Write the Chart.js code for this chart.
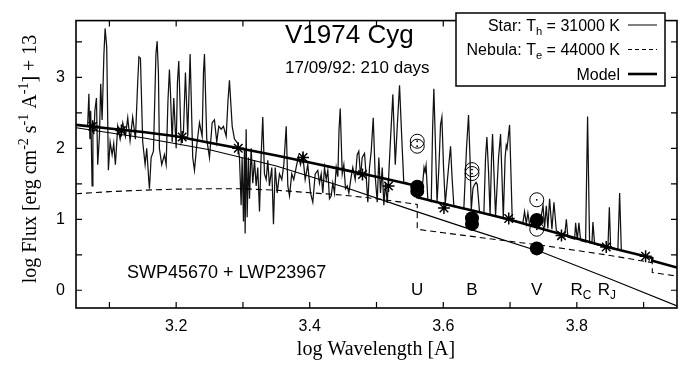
<!DOCTYPE html>
<html>
<head>
<meta charset="utf-8">
<script src="https://cdn.jsdelivr.net/npm/chart.js@4.4.1/dist/chart.umd.min.js"></script>
<style>
  html, body { margin: 0; padding: 0; background: #fff; }
  #wrap { width: 696px; height: 366px; position: relative; }
</style>
</head>
<body>
<div id="wrap"><canvas id="sedChart"></canvas></div>
<script>
// ===============================
// V1974 Cyg SED (gnuplot look)
// ===============================

// observed spectrum, [log wavelength, log flux]
const specSWP = [
  [3.0675,2.33],[3.0693,2.77],[3.0708,2.13],[3.0720,2.53],[3.0731,2.00],[3.0741,1.47],[3.0753,2.37],[3.0768,2.20],[3.0783,2.53],[3.0806,2.71],
  [3.0825,1.77],[3.0851,2.17],[3.0870,2.91],[3.0891,2.40],[3.0918,3.33],[3.0936,3.69],[3.0960,3.43],[3.0985,1.69],[3.1011,2.09],[3.1041,1.91],
  [3.1065,2.07],[3.1090,1.77],[3.1125,2.31],[3.1161,2.13],[3.1200,2.36],[3.1240,2.17],[3.1275,2.43],[3.1310,2.11],[3.1349,2.44],[3.1390,2.13],
  [3.1424,2.93],[3.1442,3.29],[3.1465,3.27],[3.1499,2.09],[3.1535,1.77],[3.1559,2.00],[3.1589,1.56],[3.1600,1.43],[3.1625,1.87],[3.1660,1.96],
  [3.1697,3.33],[3.1715,3.51],[3.1734,3.07],[3.1749,2.00],[3.1784,1.77],[3.1824,1.91],[3.1850,1.77],[3.1877,2.67],[3.1899,3.11],[3.1914,2.80],
  [3.1940,2.09],[3.1964,2.71],[3.2000,2.00],[3.2019,2.93],[3.2039,3.23],[3.2075,2.09],[3.2109,2.23],[3.2139,3.07],[3.2173,2.17],[3.2209,3.33],
  [3.2248,1.87],[3.2274,1.69],[3.2308,2.04],[3.2349,2.36],[3.2389,2.17],[3.2409,3.07],[3.2424,3.33],[3.2458,2.13],[3.2499,1.87],[3.2539,2.36],
  [3.2573,2.40],[3.2608,2.09],[3.2638,2.31],[3.2674,2.27],[3.2708,2.31],[3.2749,2.17],[3.2776,2.67],[3.2798,2.96],[3.2839,2.31],[3.2873,2.13],
  [3.2922,2.07],[3.2948,1.87]
];
const specLWP = [
  [3.2973,1.20],[3.2988,1.87],[3.3008,0.97],[3.3023,2.00],[3.3033,0.80],[3.3048,2.27],[3.3063,1.03],[3.3083,1.87],[3.3098,1.29],[3.3123,2.00],
  [3.3147,1.51],[3.3173,1.83],[3.3198,1.47],[3.3222,1.73],[3.3248,1.11],[3.3273,1.91],[3.3297,2.44],[3.3322,1.64],[3.3348,1.56],[3.3372,1.83],
  [3.3397,1.47],[3.3432,1.73],[3.3457,0.93],[3.3483,1.73],[3.3513,1.37],[3.3547,1.64],[3.3582,1.56],[3.3612,1.77],[3.3648,2.31],[3.3672,1.47],
  [3.3697,1.33],[3.3731,1.64],[3.3761,1.56],[3.3797,1.73],[3.3832,1.89],[3.3862,1.77],[3.3896,1.91],[3.3932,1.56],[3.3971,1.77],[3.4012,1.37],
  [3.4046,1.24],[3.4082,1.64],[3.4121,1.69],[3.4146,1.51],[3.4172,1.64],[3.4196,1.37],[3.4221,1.73],[3.4247,1.56],[3.4271,1.69],[3.4296,1.29],
  [3.4322,1.33],[3.4346,1.51],[3.4371,1.37],[3.4397,1.73],[3.4421,1.60],[3.4439,2.27],[3.4457,2.56],[3.4487,1.64],[3.4511,1.77],[3.4536,1.43],
  [3.4562,1.47],[3.4586,1.37],[3.4621,1.60],[3.4645,1.73],[3.4681,1.56],[3.4711,1.91],[3.4735,1.96],[3.4761,1.60],[3.4786,1.87],[3.4821,1.93],
  [3.4846,1.60],[3.4870,1.24],[3.4895,1.73],[3.4921,1.96],[3.4951,2.43],[3.4981,1.60],[3.5011,1.24],[3.5035,1.87],[3.5060,1.37],[3.5086,1.73],
  [3.5110,1.20],[3.5135,1.51],[3.5161,1.23],[3.5180,1.56],[3.5210,2.13],[3.5245,2.76],[3.5281,1.77],[3.5311,2.31],[3.5345,2.89],[3.5379,2.13],
  [3.5409,1.51]
];
const specOpt = [
  [3.5435,1.52],[3.5495,1.49],[3.5585,1.47],[3.5630,1.31],[3.5694,1.53],[3.5712,1.73],[3.5727,1.67],[3.5742,1.76],[3.5769,1.27],[3.5820,1.25],
  [3.5840,2.27],[3.5859,2.84],[3.5884,2.00],[3.5907,1.24],[3.5934,1.73],[3.5959,2.33],[3.5979,2.44],[3.6004,1.73],[3.6030,1.22],[3.6079,1.73],
  [3.6109,2.03],[3.6131,1.60],[3.6158,1.19],[3.6308,1.15],[3.6348,2.00],[3.6378,2.47],[3.6400,1.87],[3.6419,1.13],[3.6445,1.44],[3.6468,1.49],
  [3.6491,1.52],[3.6509,1.49],[3.6543,1.10],[3.6608,1.09],[3.6633,1.87],[3.6653,2.16],[3.6678,1.67],[3.6701,1.06],[3.6723,1.87],[3.6738,2.20],
  [3.6761,1.60],[3.6783,1.05],[3.6828,1.87],[3.6858,2.20],[3.6899,1.02],[3.6926,1.87],[3.6943,2.04],[3.6955,2.00],[3.6993,2.33],[3.7033,0.99],
  [3.7192,0.95],[3.7217,1.11],[3.7243,0.94],[3.7267,1.09],[3.7292,0.93],[3.7352,0.92],[3.7442,0.90],[3.7494,1.20],[3.7517,0.88],[3.7543,1.19],
  [3.7566,0.87],[3.7592,1.29],[3.7627,0.86],[3.7657,1.24],[3.7693,0.84],[3.7817,0.76],[3.7843,1.00],[3.7866,0.75],[3.7967,0.72],[3.7982,0.95],
  [3.8007,0.71],[3.8031,0.95],[3.8057,0.70],[3.8131,0.68],[3.8161,2.45],[3.8191,0.67],[3.8226,0.66],[3.8241,0.96],[3.8266,0.65],[3.8466,0.61],
  [3.8487,1.17],[3.8506,0.60],[3.8615,0.58],[3.8641,1.37],[3.8666,0.57]
];

// star (T_h = 31000 K), thin line
const starWave = [3.05, 3.15, 3.25, 3.35, 3.45, 3.55, 3.65, 3.75, 3.85, 3.95];
const starFlux = [2.29, 2.15, 1.98, 1.75, 1.46, 1.14, 0.83, 0.53, 0.16, -0.22];

// nebula (T_e = 44000 K), dashed, with Balmer and Paschen jumps
const nebWave = [3.05, 3.10, 3.15, 3.20, 3.25, 3.30, 3.35, 3.40, 3.45, 3.50, 3.561, 3.561, 3.60, 3.65, 3.70, 3.75, 3.80, 3.85, 3.913, 3.913, 3.95];
const nebFlux = [1.36, 1.39, 1.41, 1.425, 1.43, 1.43, 1.41, 1.375, 1.34, 1.29, 1.21, 0.86, 0.81, 0.75, 0.69, 0.63, 0.56, 0.49, 0.39, 0.25, 0.20];

// model = star + nebula, thick line
const modelWave = [3.05, 3.10, 3.15, 3.20, 3.25, 3.30, 3.35, 3.40, 3.45, 3.50, 3.561, 3.561, 3.60, 3.65, 3.70, 3.75, 3.80, 3.85, 3.913, 3.913, 3.95];
const modelFlux = [2.33, 2.28, 2.23, 2.17, 2.08, 1.99, 1.90, 1.80, 1.70, 1.60, 1.47, 1.31, 1.22, 1.11, 0.995, 0.86, 0.73, 0.60, 0.455, 0.415, 0.32];

// model points (asterisks)
const synWave = [3.075, 3.118, 3.209, 3.293, 3.390, 3.479, 3.518, 3.601, 3.698, 3.777, 3.844, 3.903];
const synFlux = [2.31, 2.25, 2.16, 2.00, 1.87, 1.63, 1.47, 1.16, 1.01, 0.77, 0.61, 0.48];

// photometry: dereddened (filled) and observed (open) U, B, V
const photWave = [3.561, 3.561, 3.643, 3.643, 3.740, 3.740];
const photFlux = [1.46, 1.40, 1.015, 0.935, 0.99, 0.59];
const openWave = [3.561, 3.561, 3.643, 3.643, 3.740, 3.740];
const openFlux = [2.10, 2.03, 1.70, 1.645, 1.275, 0.86];

// band labels
const bandNames = [["U"], ["B"], ["V"], ["R", "C"], ["R", "J"]];
const bandWave = [3.561, 3.643, 3.740, 3.806, 3.845];

// axes
const xRange = [3.05, 3.95];
const yRange = [-0.25, 3.8];
const xTickLabels = [3.2, 3.4, 3.6, 3.8];
const xTickMarks = [3.1, 3.2, 3.3, 3.4, 3.5, 3.6, 3.7, 3.8, 3.9];
const yTickLabels = [0, 1, 2, 3];
const yTickMarks = [0, 0.5, 1, 1.5, 2, 2.5, 3, 3.5];

const SANS = "'Liberation Sans', Arial, sans-serif";
const SERIF = "'Liberation Serif', 'Times New Roman', serif";
const INK = "#000";

const pts = (xs, ys) => xs.map((x, i) => ({ x, y: ys[i] }));
const pairs = arr => arr.map(p => ({ x: p[0], y: p[1] }));

// text with sub/superscripts: parts = [[text, "sup"|"sub"|undefined], ...]
function drawRich(ctx, parts, x, y, size, family, align) {
  const widths = parts.map(p => {
    ctx.font = (p[1] ? size * 0.7 : size) + "px " + family;
    return ctx.measureText(p[0]).width;
  });
  const total = widths.reduce((a, b) => a + b, 0);
  let cx = align === "right" ? x - total : align === "center" ? x - total / 2 : x;
  ctx.textAlign = "left";
  ctx.textBaseline = "alphabetic";
  parts.forEach((p, i) => {
    const s = p[1] ? size * 0.7 : size;
    ctx.font = s + "px " + family;
    const dy = p[1] === "sup" ? -size * 0.4 : p[1] === "sub" ? size * 0.25 : 0;
    ctx.fillText(p[0], cx, y + dy);
    cx += widths[i];
  });
}

const gnuFrame = {
  id: "gnuFrame",
  afterDraw(chart) {
    const { ctx, chartArea: a, scales } = chart;
    const sx = scales.x, sy = scales.y;
    ctx.save();
    ctx.fillStyle = INK;
    ctx.strokeStyle = INK;

    // frame + inward ticks on all sides
    ctx.lineWidth = 1.6;
    ctx.strokeRect(a.left, a.top, a.right - a.left, a.bottom - a.top);
    ctx.lineWidth = 1.2;
    ctx.beginPath();
    xTickMarks.forEach(v => {
      const p = sx.getPixelForValue(v);
      ctx.moveTo(p, a.bottom); ctx.lineTo(p, a.bottom - 6);
      ctx.moveTo(p, a.top); ctx.lineTo(p, a.top + 6);
    });
    yTickMarks.forEach(v => {
      const p = sy.getPixelForValue(v);
      ctx.moveTo(a.left, p); ctx.lineTo(a.left + 6, p);
      ctx.moveTo(a.right, p); ctx.lineTo(a.right - 6, p);
    });
    ctx.stroke();

    // axis titles
    drawRich(ctx, [["log Wavelength [A]"]], 376, 355, 20, SERIF, "center");
    ctx.save();
    ctx.translate(36, 159);
    ctx.rotate(-Math.PI / 2);
    drawRich(ctx, [
      ["log Flux [erg cm"], ["-2", "sup"], [" s"], ["-1", "sup"], [" A"], ["-1", "sup"], ["] + 13"]
    ], 0, 0, 20, SERIF, "center");
    ctx.restore();

    // title and labels
    drawRich(ctx, [["V1974 Cyg"]], 285, 43, 26, SANS, "left");
    drawRich(ctx, [["17/09/92: 210 days"]], 285, 73, 17, SANS, "left");
    drawRich(ctx, [["SWP45670 + LWP23967"]], 127, 278, 18, SANS, "left");
    bandNames.forEach((b, i) => {
      const p = sx.getPixelForValue(bandWave[i]);
      const parts = b.length > 1 ? [[b[0]], [b[1], "sub"]] : [[b[0]]];
      drawRich(ctx, parts, p, 295, 17, SANS, "center");
    });

    // legend box
    const L = { left: 456, top: 13, right: 665, bottom: 86 };
    ctx.fillStyle = "#fff";
    ctx.fillRect(L.left, L.top, L.right - L.left, L.bottom - L.top);
    ctx.fillStyle = INK;
    ctx.lineWidth = 1.5;
    ctx.strokeRect(L.left, L.top, L.right - L.left, L.bottom - L.top);
    const rows = [
      { parts: [["Star: T"], ["h", "sub"], [" = 31000 K"]], w: 1, dash: [] },
      { parts: [["Nebula: T"], ["e", "sub"], [" = 44000 K"]], w: 1, dash: [4, 3] },
      { parts: [["Model"]], w: 2.6, dash: [] }
    ];
    rows.forEach((r, i) => {
      const cy = 25 + i * 24.5;
      drawRich(ctx, r.parts, 620, cy + 5.5, 16, SANS, "right");
      ctx.beginPath();
      ctx.lineWidth = r.w;
      ctx.setLineDash(r.dash);
      ctx.moveTo(628, cy); ctx.lineTo(657, cy);
      ctx.stroke();
      ctx.setLineDash([]);
    });
    ctx.restore();
  }
};

const ctx = document.getElementById("sedChart").getContext("2d");
new Chart(ctx, {
  type: "scatter",
  data: {
    datasets: [
      { label: "dereddened UBV", data: pts(photWave, photFlux), pointStyle: "circle", pointRadius: 7,
        backgroundColor: INK, borderColor: INK, borderWidth: 0, order: 0 },
      { label: "observed UBV", data: pts(openWave, openFlux), pointStyle: "circle", pointRadius: 7,
        backgroundColor: "rgba(0,0,0,0)", borderColor: INK, borderWidth: 1, order: 1 },
      { label: "observed UBV dot", data: pts(openWave, openFlux), pointStyle: "circle", pointRadius: 0.9,
        backgroundColor: INK, borderColor: INK, borderWidth: 0, order: 1 },
      { label: "model points", data: pts(synWave, synFlux), pointStyle: "star", pointRadius: 6,
        borderColor: INK, borderWidth: 1.5, order: 2 },
      { label: "Model", data: pts(modelWave, modelFlux), showLine: true, pointRadius: 0,
        borderColor: INK, borderWidth: 2.6, order: 3 },
      { label: "Nebula", data: pts(nebWave, nebFlux), showLine: true, pointRadius: 0,
        borderColor: INK, borderWidth: 1.1, borderDash: [6, 4], order: 4 },
      { label: "Star", data: pts(starWave, starFlux), showLine: true, pointRadius: 0,
        borderColor: INK, borderWidth: 1.1, order: 5 },
      { label: "spectrum", data: pairs([...specSWP, ...specLWP, ...specOpt]), showLine: true, pointRadius: 0,
        borderColor: "#111", borderWidth: 1.25, order: 6 }
    ]
  },
  options: {
    responsive: true,
    maintainAspectRatio: false,
    animation: false,
    layout: { padding: { top: 6, right: 19, left: 0, bottom: 0 } },
    plugins: { legend: { display: false }, tooltip: { enabled: false } },
    scales: {
      x: {
        type: "linear",
        min: xRange[0], max: xRange[1],
        grid: { display: false, drawTicks: false },
        border: { display: false },
        afterBuildTicks: s => { s.ticks = xTickLabels.map(v => ({ value: v })); },
        afterFit: s => { s.height = 58; },
        ticks: { color: INK, padding: 9, font: { family: SANS, size: 16 }, callback: v => v.toFixed(1) }
      },
      y: {
        type: "linear",
        min: yRange[0], max: yRange[1],
        grid: { display: false, drawTicks: false },
        border: { display: false },
        afterBuildTicks: s => { s.ticks = yTickLabels.map(v => ({ value: v })); },
        afterFit: s => { s.width = 76; },
        ticks: { color: INK, padding: 11, font: { family: SANS, size: 16 }, callback: v => String(v) }
      }
    }
  },
  plugins: [gnuFrame]
});
</script>
</body>
</html>
